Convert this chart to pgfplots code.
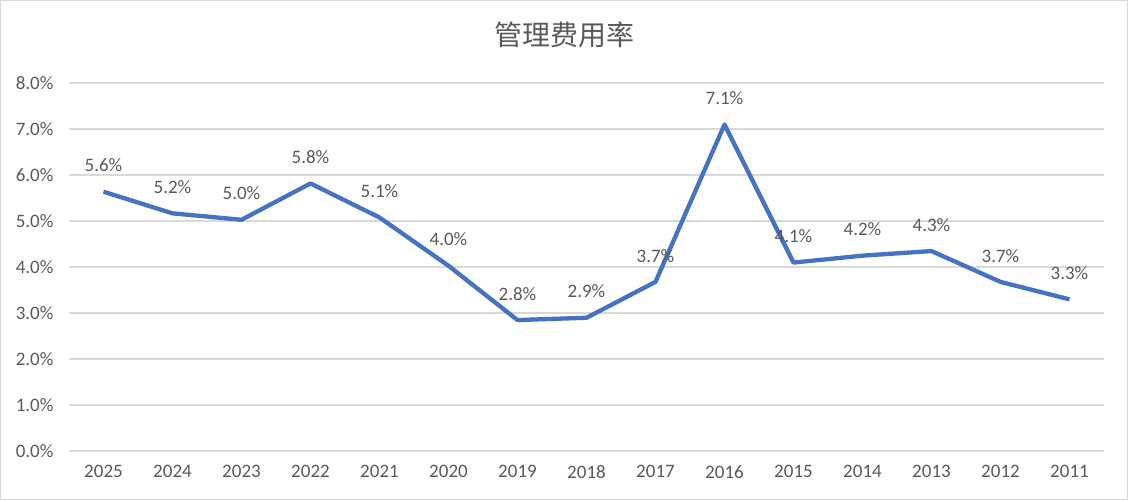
\documentclass[border=0pt]{standalone}
\usepackage{pgfplots}
\pgfplotsset{compat=1.18}
\usepackage{fontspec}
\setmainfont{Carlito}
\newfontfamily\cjk{Noto Sans CJK SC}
\definecolor{txt}{HTML}{595959}
\definecolor{gridc}{HTML}{D9D9D9}
\definecolor{linec}{HTML}{4472C4}
\begin{document}
\begin{tikzpicture}
\begin{axis}[
  scale only axis, width=1035pt, height=368pt,
  xmin=-0.5, xmax=14.5, ymin=0, ymax=8,
  xtick={0,1,...,14},
  xticklabels={2025,2024,2023,2022,2021,2020,2019,2018,2017,2016,2015,2014,2013,2012,2011},
  ytick={0,1,...,8},
  axis line style={draw=none},
  major tick length=0pt,
  ymajorgrids, grid style={gridc, line width=1.7pt},
  /pgf/number format/assume math mode=true,
  tick label style={font=\fontsize{19}{22}\selectfont, text=txt},
  yticklabel={\pgfmathprintnumber[fixed,fixed zerofill,precision=1]{\tick}\%},
  yticklabel style={xshift=-12pt},
  xticklabel style={yshift=-11pt},
  clip=false,
  nodes near coords={\pgfmathprintnumber[fixed,fixed zerofill,precision=1,assume math mode=true]{\pgfplotspointmeta}\%},
  every node near coord/.append style={font=\fontsize{19}{22}\selectfont, text=txt, inner sep=0pt, anchor=south, yshift=17.5pt},
]
\addplot[linec, line width=4.3pt, line join=round, mark=none] coordinates {
  (0,5.63) (1,5.16) (2,5.02) (3,5.81) (4,5.07) (5,4.02) (6,2.84) (7,2.89)
  (8,3.67) (9,7.09) (10,4.09) (11,4.24) (12,4.34) (13,3.67) (14,3.29)
};
\end{axis}
\draw[gridc, line width=1.5pt] ([xshift=-68.25pt,yshift=-48.55pt]current axis.south west) rectangle ([xshift=23.25pt,yshift=81.95pt]current axis.north east);
\node[font=\cjk\fontsize{28}{34}\selectfont, text=txt, anchor=center] at ([xshift=-22.5pt,yshift=47.7pt]current axis.north) {管理费用率};
\end{tikzpicture}
\end{document}
